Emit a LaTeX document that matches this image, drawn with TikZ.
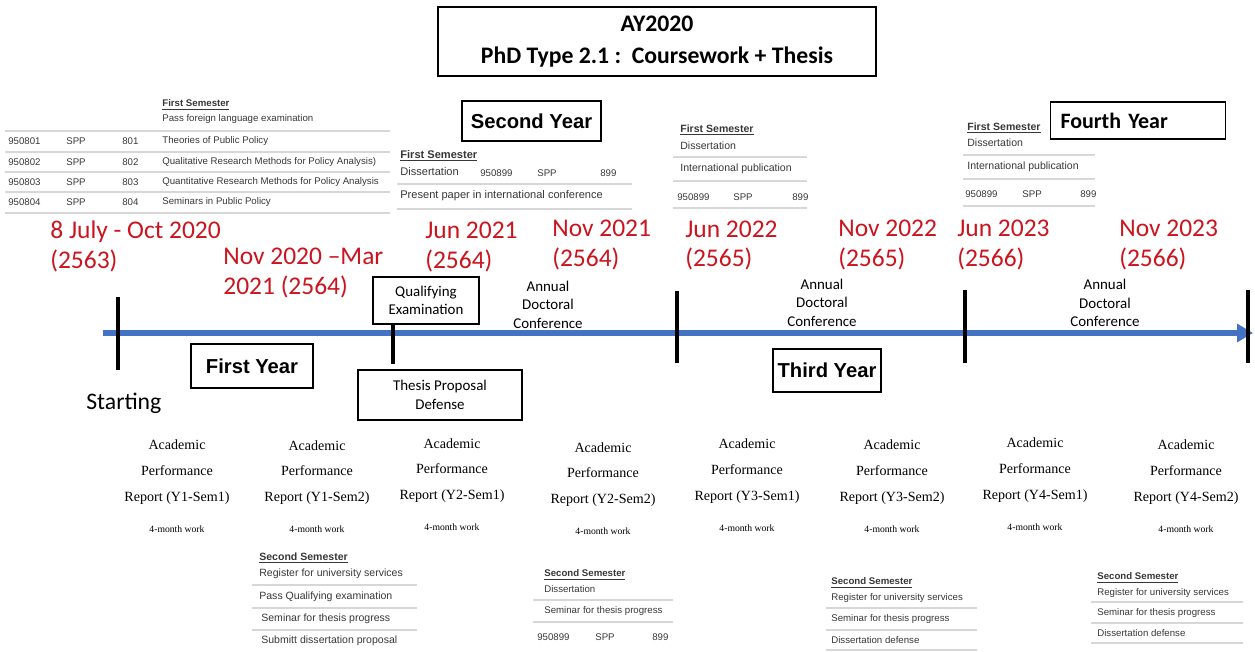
\documentclass[tikz,border=0pt]{standalone}
\usepackage{fontspec}
\setmainfont{Liberation Sans}
\newfontfamily\carl{Carlito}
\newfontfamily\tms{Liberation Serif}
\usetikzlibrary{arrows.meta}
\definecolor{datered}{RGB}{204,20,30}
\definecolor{lineblue}{RGB}{68,114,196}
\definecolor{tblgrey}{RGB}{55,55,55}
\definecolor{rulegrey}{RGB}{215,215,215}
\begin{document}
\begin{tikzpicture}[x=0.02cm,y=-0.02cm,
  yearbox/.style={draw,line width=0.9pt,font=\bfseries\fontsize{11.5}{13}\selectfont,inner sep=0},
  eventbox/.style={draw,line width=0.8pt,font=\carl\fontsize{8.5}{10.5}\selectfont,align=center,inner sep=0},
  date/.style={anchor=west,align=left,text=datered,font=\carl\fontsize{14.5}{17}\selectfont,inner sep=0},
  conf/.style={align=center,font=\carl\fontsize{8.5}{10.5}\selectfont,inner sep=0},
  report/.style={align=center,font=\tms\fontsize{8}{14.7}\selectfont,inner sep=0},
  work/.style={font=\tms\fontsize{5.5}{6}\selectfont,inner sep=0},
  tbl/.style={anchor=west,text=tblgrey,font=\fontsize{5.5}{6}\selectfont,inner sep=0},
  sem/.style={tbl,font=\bfseries\fontsize{5.5}{6}\selectfont},
  rule/.style={draw=rulegrey,line width=0.6pt},
  tick/.style={line width=2.8pt}]
\useasboundingbox (0,0) rectangle (1255,652);

\node[draw,line width=1.1pt,minimum width=8.76cm,minimum height=1.38cm,align=center,
  font=\carl\bfseries\fontsize{13.5}{18}\selectfont] (title) at (657,41.5)
  {AY2020\\PhD Type 2.1 :\ \ Coursework + Thesis};

\coordinate (tl0) at (103,333);
\coordinate (tl1) at (1253,333);
\draw[lineblue,line width=3.4pt,-{Triangle[length=9pt,width=10pt]}] (tl0) -- (tl1);

\coordinate (k1a) at (118,297); \coordinate (k1b) at (118,370);
\coordinate (k2a) at (393,324); \coordinate (k2b) at (393,364);
\coordinate (k3a) at (677,291); \coordinate (k3b) at (677,363);
\coordinate (k4a) at (965,290); \coordinate (k4b) at (965,363);
\coordinate (k5a) at (1248,290); \coordinate (k5b) at (1248,363);
\draw[tick] (k1a) -- (k1b); \draw[tick] (k2a) -- (k2b); \draw[tick] (k3a) -- (k3b);
\draw[tick] (k4a) -- (k4b); \draw[tick] (k5a) -- (k5b);

\node[yearbox,minimum width=2.44cm,minimum height=0.88cm] (yr1) at (252,366) {First Year};
\node[yearbox,minimum width=2.78cm,minimum height=0.8cm] (yr2) at (531.5,121) {Second Year};
\node[yearbox,minimum width=2.16cm,minimum height=0.86cm] (yr3) at (827,370.5) {Third Year};
\node[yearbox,font=\carl\bfseries\fontsize{12.5}{14}\selectfont,minimum height=0.74cm,
  text width=3.1cm,inner xsep=0.2cm,align=left] (yr4) at (1138,120.5) {Fourth Year};

\node[eventbox,minimum width=2.12cm,minimum height=0.94cm] (qual) at (426,300.5) {Qualifying\\Examination};
\node[eventbox,minimum width=3.28cm,minimum height=1.0cm] (prop) at (440,395) {Thesis Proposal\\Defense};
\node[anchor=west,font=\carl\fontsize{13.5}{15}\selectfont,inner sep=0] (start) at (86,403) {Starting};

\node[date] (d1) at (50,246) {8 July - Oct 2020\\(2563)};
\node[date] (d2) at (223,273) {Nov 2020 –Mar\\2021 (2564)};
\node[date] (d3) at (425,247) {Jun 2021\\(2564)};
\node[date] (d4) at (552,245) {Nov 2021\\(2564)};
\node[date] (d5) at (685,245.5) {Jun 2022\\(2565)};
\node[date] (d6) at (838,245) {Nov 2022\\(2565)};
\node[date] (d7) at (957,245) {Jun 2023\\(2566)};
\node[date] (d8) at (1119,245) {Nov 2023\\(2566)};

\node[conf] (c1) at (548,304.5) {Annual\\Doctoral\\Conference};
\node[conf] (c2) at (822,302.5) {Annual\\Doctoral\\Conference};
\node[conf] (c3) at (1105,303) {Annual\\Doctoral\\Conference};

\foreach \i/\x/\dy/\s in {1/177/0/Y1-Sem1,2/317/0.5/Y1-Sem2,3/452/-1.5/Y2-Sem1,4/603/2.5/Y2-Sem2,
  5/747/-1/Y3-Sem1,6/892/0/Y3-Sem2,7/1035/-2/Y4-Sem1,8/1186/0/Y4-Sem2}{
  \node[report] (rep\i) at (\x,472+\dy) {Academic\\Performance\\Report (\s)};
  \node[work] (wk\i) at (\x,529+\dy) {4-month work};
}

\node[sem] (t1h) at (162,105) {\underline{First Semester}};
\node[tbl] (t1p) at (162,119) {Pass foreign language examination};
\foreach \y in {131,152,172,192,213} \draw[rule] (5,\y) -- (390,\y);
\foreach \i/\y/\t in {1/141/Theories of Public Policy,
  2/162/Qualitative Research Methods for Policy Analysis),
  3/182/Quantitative Research Methods for Policy Analysis,
  4/202/Seminars in Public Policy}{
  \node[tbl] (t1c\i) at (8,\y) {95080\i};
  \node[tbl] (t1s\i) at (66,\y) {SPP};
  \node[tbl] (t1n\i) at (122,\y) {80\i};
  \node[tbl] (t1t\i) at (162,\y) {\t};
}

\node[sem,font=\bfseries\fontsize{6.3}{7}\selectfont] (t2h) at (400,156) {\underline{First Semester}};
\node[tbl,font=\fontsize{6.3}{7}\selectfont] (t2d) at (400,172) {Dissertation};
\node[tbl] (t2c) at (480,173) {950899};
\node[tbl] (t2s) at (537,173) {SPP};
\node[tbl] (t2n) at (600,173) {899};
\draw[rule] (397,184) -- (632,184);
\node[tbl,font=\fontsize{6.3}{7}\selectfont] (t2p) at (400,196) {Present paper in international conference};
\draw[rule] (397,209) -- (632,209);

\node[sem,font=\bfseries\fontsize{6}{7}\selectfont] (t3h) at (680,130) {\underline{First Semester}};
\node[tbl,font=\fontsize{6}{7}\selectfont] (t3d) at (680,146) {Dissertation};
\draw[rule] (673,157) -- (807,157);
\node[tbl,font=\fontsize{6}{7}\selectfont] (t3p) at (680,169) {International publication};
\draw[rule] (673,181) -- (807,181);
\node[tbl] (t3c) at (677,197) {950899};
\node[tbl] (t3s) at (733,197) {SPP};
\node[tbl] (t3n) at (792,197) {899};
\draw[rule] (673,208) -- (807,208);

\node[sem,font=\bfseries\fontsize{6}{7}\selectfont] (t4h) at (967,128) {\underline{First Semester}};
\node[tbl,font=\fontsize{6}{7}\selectfont] (t4d) at (967,143) {Dissertation};
\draw[rule] (963,155) -- (1095,155);
\node[tbl,font=\fontsize{6}{7}\selectfont] (t4p) at (967,167) {International publication};
\draw[rule] (963,179) -- (1095,179);
\node[tbl] (t4c) at (965,194) {950899};
\node[tbl] (t4s) at (1022,194) {SPP};
\node[tbl] (t4n) at (1080,194) {899};
\draw[rule] (963,206) -- (1095,206);

\node[sem,font=\bfseries\fontsize{6}{7}\selectfont] (b1h) at (259,558) {\underline{Second Semester}};
\node[tbl,font=\fontsize{6}{7}\selectfont] (b1r) at (259,574) {Register for university services};
\draw[rule] (252,585) -- (417,585);
\node[tbl,font=\fontsize{6}{7}\selectfont] (b1q) at (259,597) {Pass Qualifying examination};
\draw[rule] (252,608) -- (417,608);
\node[tbl,font=\fontsize{6}{7}\selectfont] (b1s) at (261,619) {Seminar for thesis progress};
\draw[rule] (252,630) -- (417,630);
\node[tbl,font=\fontsize{6}{7}\selectfont] (b1p) at (261,641) {Submitt dissertation proposal};

\node[sem] (b2h) at (544,575) {\underline{Second Semester}};
\node[tbl] (b2d) at (544,589) {Dissertation};
\draw[rule] (533,600) -- (673,600);
\node[tbl] (b2s) at (544,611) {Seminar for thesis progress};
\draw[rule] (533,622) -- (673,622);
\node[tbl] (b2c) at (537,637) {950899};
\node[tbl] (b2p) at (595,637) {SPP};
\node[tbl] (b2n) at (652,637) {899};

\node[sem] (b3h) at (831,583) {\underline{Second Semester}};
\node[tbl] (b3r) at (831,598) {Register for university services};
\draw[rule] (826,608) -- (977,608);
\node[tbl] (b3s) at (831,619) {Seminar for thesis progress};
\draw[rule] (826,630) -- (977,630);
\node[tbl] (b3d) at (831,640) {Dissertation defense};
\draw[rule] (826,650) -- (977,650);

\node[sem] (b4h) at (1097,578) {\underline{Second Semester}};
\node[tbl] (b4r) at (1097,593) {Register for university services};
\draw[rule] (1091,602) -- (1243,602);
\node[tbl] (b4s) at (1097,613) {Seminar for thesis progress};
\draw[rule] (1091,623) -- (1243,623);
\node[tbl] (b4d) at (1097,633) {Dissertation defense};
\draw[rule] (1091,643) -- (1243,643);
\end{tikzpicture}
\end{document}
